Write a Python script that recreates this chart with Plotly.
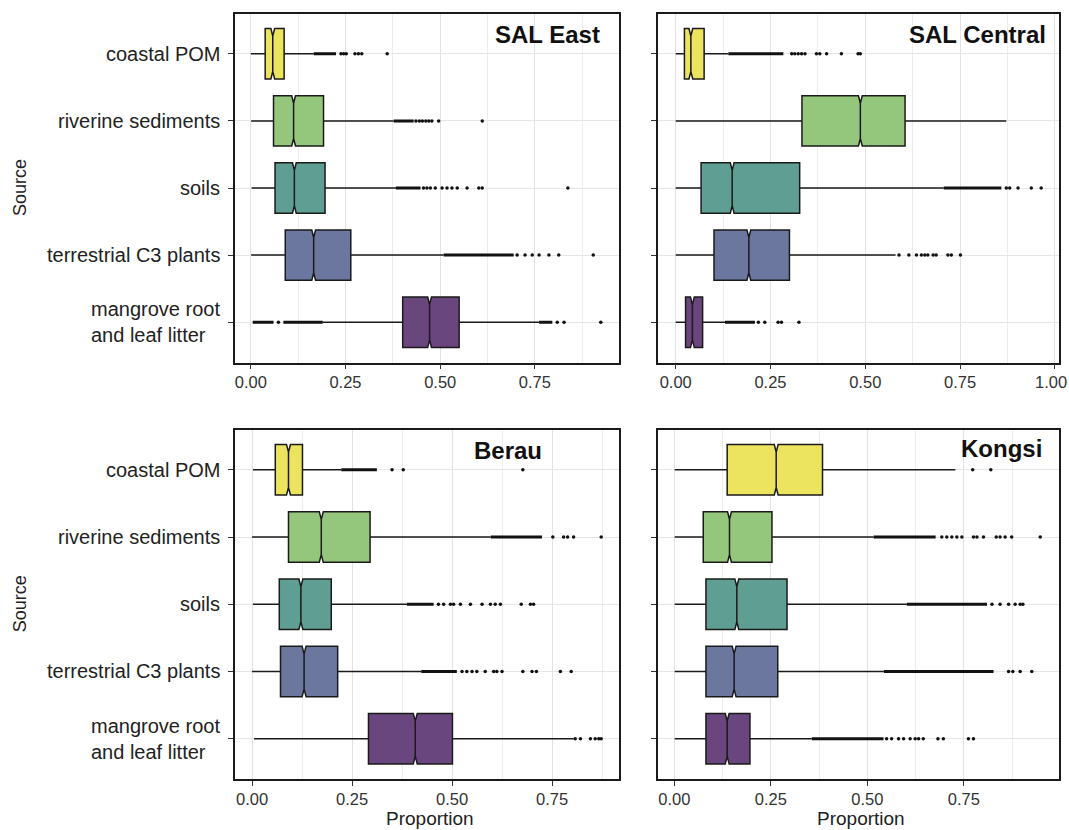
import plotly.graph_objects as go

W, H = 1069, 830

# ---------------- data ----------------
sources = ["coastal POM", "riverine sediments", "soils", "terrestrial C3 plants",
           "mangrove root and leaf litter"]
source_labels = ["coastal POM", "riverine sediments", "soils", "terrestrial C3 plants",
                 "mangrove root<br>and leaf litter"]
source_colors = ["#ECE35E", "#94C67C", "#5F9E93", "#6B779F", "#6A467E"]
sites = ["SAL East", "SAL Central", "Berau", "Kongsi"]

# per site: lists in the order of `sources`
q1 = {
    "SAL East":    [0.038, 0.060, 0.064, 0.091, 0.401],
    "SAL Central": [0.023, 0.333, 0.067, 0.101, 0.026],
    "Berau":       [0.058, 0.091, 0.068, 0.071, 0.291],
    "Kongsi":      [0.137, 0.075, 0.082, 0.082, 0.082],
}
median = {
    "SAL East":    [0.058, 0.113, 0.115, 0.166, 0.472],
    "SAL Central": [0.040, 0.487, 0.149, 0.193, 0.044],
    "Berau":       [0.091, 0.173, 0.122, 0.130, 0.408],
    "Kongsi":      [0.264, 0.143, 0.162, 0.155, 0.137],
}
q3 = {
    "SAL East":    [0.088, 0.192, 0.196, 0.264, 0.550],
    "SAL Central": [0.075, 0.605, 0.327, 0.300, 0.071],
    "Berau":       [0.126, 0.295, 0.198, 0.214, 0.501],
    "Kongsi":      [0.384, 0.253, 0.292, 0.268, 0.196],
}
lower_whisker = {
    "SAL East":    [0.000, 0.001, 0.002, 0.001, 0.190],
    "SAL Central": [0.000, 0.000, 0.000, 0.000, 0.000],
    "Berau":       [0.002, 0.000, 0.002, 0.000, 0.005],
    "Kongsi":      [0.001, 0.001, 0.001, 0.001, 0.001],
}
upper_whisker = {
    "SAL East":    [0.166, 0.377, 0.383, 0.509, 0.761],
    "SAL Central": [0.139, 0.872, 0.707, 0.580, 0.130],
    "Berau":       [0.223, 0.597, 0.387, 0.423, 0.804],
    "Kongsi":      [0.728, 0.516, 0.602, 0.543, 0.356],
}

# dense runs of outliers (start, end) per source
outlier_runs = {
    "SAL East":    [[(0.166, 0.225)], [(0.377, 0.430)], [(0.383, 0.448)],
                    [(0.509, 0.694)], [(0.005, 0.060), (0.086, 0.190), (0.761, 0.796)]],
    "SAL Central": [[(0.139, 0.284)], [], [(0.707, 0.859)], [], [(0.130, 0.209)]],
    "Berau":       [[(0.223, 0.312)], [(0.597, 0.725)], [(0.387, 0.454)], [(0.423, 0.512)], []],
    "Kongsi":      [[], [(0.516, 0.677)], [(0.602, 0.810)], [(0.543, 0.827)], [(0.356, 0.542)]],
}
# isolated outliers per source
outlier_points = {
    "SAL East": [
        [0.238, 0.245, 0.252, 0.275, 0.284, 0.293, 0.360],
        [0.436, 0.445, 0.453, 0.462, 0.470, 0.478, 0.496, 0.611],
        [0.456, 0.465, 0.474, 0.487, 0.505, 0.518, 0.531, 0.545, 0.571, 0.602, 0.611, 0.837],
        [0.703, 0.724, 0.743, 0.761, 0.787, 0.813, 0.904],
        [0.073, 0.809, 0.827, 0.924],
    ],
    "SAL Central": [
        [0.306, 0.314, 0.323, 0.332, 0.341, 0.371, 0.380, 0.398, 0.437, 0.481, 0.487],
        [],
        [0.872, 0.881, 0.903, 0.938, 0.964],
        [0.589, 0.615, 0.635, 0.648, 0.657, 0.665, 0.679, 0.687, 0.718, 0.727, 0.751],
        [0.218, 0.235, 0.270, 0.279, 0.325],
    ],
    "Berau": [
        [0.350, 0.378, 0.677],
        [0.752, 0.779, 0.789, 0.804, 0.873],
        [0.466, 0.479, 0.496, 0.504, 0.521, 0.546, 0.575, 0.596, 0.608, 0.621, 0.673, 0.696, 0.704],
        [0.525, 0.537, 0.550, 0.562, 0.583, 0.604, 0.612, 0.625, 0.677, 0.700, 0.711, 0.771, 0.798],
        [0.808, 0.821, 0.846, 0.858, 0.867, 0.873],
    ],
    "Kongsi": [
        [0.773, 0.820],
        [0.693, 0.706, 0.719, 0.732, 0.745, 0.775, 0.784, 0.801, 0.834, 0.844, 0.857, 0.874, 0.948],
        [0.823, 0.844, 0.866, 0.883, 0.896, 0.903],
        [0.866, 0.877, 0.896, 0.926],
        [0.550, 0.563, 0.581, 0.594, 0.611, 0.624, 0.633, 0.645, 0.683, 0.697, 0.762, 0.775],
    ],
}

x_ticks = {
    "SAL East": [0, 0.25, 0.5, 0.75],
    "SAL Central": [0, 0.25, 0.5, 0.75, 1.0],
    "Berau": [0, 0.25, 0.5, 0.75],
    "Kongsi": [0, 0.25, 0.5, 0.75],
}
x_ranges = {
    "SAL East": [-0.043, 0.972],
    "SAL Central": [-0.048, 1.011],
    "Berau": [-0.044, 0.9175],
    "Kongsi": [-0.0435, 0.9966],
}

# ---------------- layout geometry (page pixels) ----------------
panel_px = {
    "SAL East":    (234.5, 619, 13.5, 362.5),
    "SAL Central": (657.5, 1059, 13.5, 362.5),
    "Berau":       (234.5, 619, 429.5, 779),
    "Kongsi":      (657.5, 1059, 429.5, 779),
}
title_pos = {
    "SAL East": (602, 35, "right"),
    "SAL Central": (1048, 35, "right"),
    "Berau": (508, 450, "center"),
    "Kongsi": (1044, 448, "right"),
}


def px_x(v):
    return v / W


def px_y(v):
    return 1 - v / H


fig = go.Figure()
layout = dict(
    width=W, height=H, margin=dict(l=0, r=0, t=0, b=0, autoexpand=False),
    paper_bgcolor="white", plot_bgcolor="white", showlegend=False,
    boxmode="overlay", font=dict(family="Liberation Sans, Arial, sans-serif", color="#222"),
)
annotations = []
TICK_FONT = dict(size=16.5, color="#333")

for k, site in enumerate(sites):
    ax = "" if k == 0 else str(k + 1)
    xref, yref = "x" + ax, "y" + ax
    x0, x1, y0, y1 = panel_px[site]

    for i, src in enumerate(sources):
        fig.add_trace(go.Box(
            orientation="h", y=[src],
            q1=[q1[site][i]], median=[median[site][i]], q3=[q3[site][i]],
            lowerfence=[lower_whisker[site][i]], upperfence=[upper_whisker[site][i]],
            notched=True, notchspan=[0.005], notchwidth=0.15,
            width=0.75, whiskerwidth=0, boxpoints=False,
            fillcolor=source_colors[i], line=dict(color="#1a1a1a", width=1.5),
            xaxis=xref, yaxis=yref, hoverinfo="skip",
        ))

    # dense outlier runs
    rx, ry = [], []
    for i, src in enumerate(sources):
        for a, b in outlier_runs[site][i]:
            rx += [a, b, None]
            ry += [src, src, None]
    if rx:
        fig.add_trace(go.Scatter(x=rx, y=ry, mode="lines",
                                 line=dict(color="#111", width=3),
                                 xaxis=xref, yaxis=yref, hoverinfo="skip"))
    # isolated outliers
    ox, oy = [], []
    for i, src in enumerate(sources):
        for v in outlier_points[site][i]:
            ox.append(v)
            oy.append(src)
    if ox:
        fig.add_trace(go.Scatter(x=ox, y=oy, mode="markers",
                                 marker=dict(color="#111", size=3.5),
                                 xaxis=xref, yaxis=yref, hoverinfo="skip"))

    # tick labels; a label that would run past the page edge is drawn as an annotation
    ticktext = []
    for t in x_ticks[site]:
        label = f"{t:.2f}"
        if t > x_ranges[site][1] - 0.03:
            ticktext.append("")
            annotations.append(dict(text=label, x=t, xref=xref, y=px_y(382), yref="paper",
                                    xanchor="center", yanchor="middle", xshift=-4,
                                    showarrow=False, font=TICK_FONT))
        else:
            ticktext.append(label)

    layout["xaxis" + ax] = dict(
        domain=[px_x(x0), px_x(x1)], anchor=yref, range=x_ranges[site], automargin=False,
        tickvals=x_ticks[site], ticktext=ticktext,
        ticks="outside", ticklen=5, tickwidth=1.2, tickcolor="#333",
        tickfont=TICK_FONT, ticklabelstandoff=-1,
        showgrid=True, gridcolor="#E2E2E2", gridwidth=1.1,
        minor=dict(dtick=0.125, tick0=0, showgrid=True, gridcolor="#EDEDED", gridwidth=1),
        zeroline=False, showline=True, mirror=True, linecolor="#1a1a1a", linewidth=1.5,
    )
    layout["yaxis" + ax] = dict(
        domain=[px_y(y1), px_y(y0)], anchor=xref, automargin=False,
        type="category", categoryorder="array", categoryarray=sources,
        range=[4.6, -0.6], showticklabels=False,
        ticks="outside", ticklen=5, tickwidth=1.2, tickcolor="#333",
        showgrid=True, gridcolor="#E6E6E6", gridwidth=1,
        zeroline=False, showline=True, mirror=True, linecolor="#1a1a1a", linewidth=1.5,
    )

    tx, ty, anc = title_pos[site]
    annotations.append(dict(text=f"<b>{site}</b>", x=px_x(tx), y=px_y(ty), xref="paper", yref="paper",
                            xanchor=anc, yanchor="middle", showarrow=False,
                            font=dict(size=24, color="#111")))

    # category labels for the left column
    if k in (0, 2):
        for i, src in enumerate(sources):
            annotations.append(dict(text=source_labels[i], x=px_x(222), xref="paper",
                                    y=src, yref=yref, xanchor="right", yanchor="middle",
                                    align="left", showarrow=False,
                                    font=dict(size=20, color="#222")))
        annotations.append(dict(text="Source", x=px_x(20), y=px_y((y0 + y1) / 2),
                                xref="paper", yref="paper", textangle=-90,
                                xanchor="center", yanchor="middle", showarrow=False,
                                font=dict(size=18, color="#222")))
    if k in (2, 3):
        annotations.append(dict(text="Proportion", x=px_x((x0 + x1) / 2 + 3), y=px_y(818),
                                xref="paper", yref="paper", xanchor="center", yanchor="middle",
                                showarrow=False, font=dict(size=19, color="#222")))

layout["annotations"] = annotations
fig.update_layout(**layout)
fig.write_html(
    "out.html",
    config={"displayModeBar": False},
    post_script="document.body.style.margin='0';document.body.style.overflow='hidden';",
)
